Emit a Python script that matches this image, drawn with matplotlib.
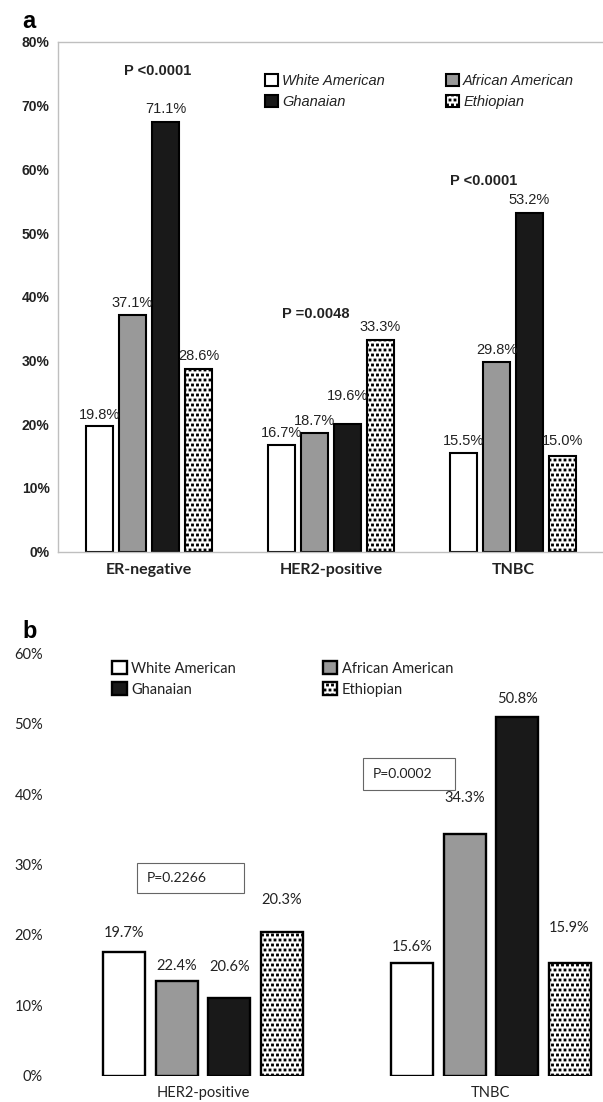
import numpy as np
import matplotlib
matplotlib.use("Agg")
import matplotlib.pyplot as plt
from matplotlib import hatch as mhatch
from matplotlib.path import Path
from matplotlib.patches import Rectangle
from matplotlib.legend import Legend


# '.' hatch -> small filled squares, staggered (the Excel "dotted" fill)
class SmallSquares(mhatch.Shapes):
    size = 0.2
    filled = True

    def __init__(self, hatch, density):
        self.num_rows = hatch.count('.') * 5
        self.shape_vertices = np.array([[-1, -1], [1, -1], [1, 1], [-1, 1], [-1, -1]], float)
        self.shape_codes = np.array([Path.MOVETO, Path.LINETO, Path.LINETO,
                                     Path.LINETO, Path.CLOSEPOLY], dtype=Path.code_type)
        super().__init__(hatch, density)


mhatch._hatch_types[:] = [h for h in mhatch._hatch_types
                          if h is not mhatch.SmallFilledCircles] + [SmallSquares]
plt.rcParams['hatch.linewidth'] = 0.6

W, H = 603, 1102
groups = ['White American', 'African American', 'Ghanaian', 'Ethiopian']

# ---- panel a data (bar heights as drawn, labels as printed)
a_categories = ['ER-negative', 'HER2-positive', 'TNBC']
a_white = [19.8, 16.7, 15.5]
a_african = [37.1, 18.7, 29.8]
a_ghana = [67.4, 20.0, 53.1]
a_ethiopia = [28.7, 33.3, 15.0]
a_white_lbl = ['19.8%', '16.7%', '15.5%']
a_african_lbl = ['37.1%', '18.7%', '29.8%']
a_ghana_lbl = ['71.1%', '19.6%', '53.2%']
a_ethiopia_lbl = ['28.6%', '33.3%', '15.0%']
a_pvalues = ['P <0.0001', 'P =0.0048', 'P <0.0001']

# ---- panel b data
b_categories = ['HER2-positive', 'TNBC']
b_white = [17.6, 16.0]
b_african = [13.5, 34.3]
b_ghana = [11.1, 50.9]
b_ethiopia = [20.4, 16.0]
b_white_lbl = ['19.7%', '15.6%']
b_african_lbl = ['22.4%', '34.3%']
b_ghana_lbl = ['20.6%', '50.8%']
b_ethiopia_lbl = ['20.3%', '15.9%']
b_pvalues = ['P=0.2266', 'P=0.0002']

# styles
faces = ['white', '#999999', '#191919', 'white']
hatches = [None, None, None, '....']
px = 72 / 100  # points per pixel


def fig_rect(x0, y0, x1, y1):
    return [x0 / W, 1 - y1 / H, (x1 - x0) / W, (y1 - y0) / H]


fig = plt.figure(figsize=(W / 100, H / 100), dpi=100)

# ================= panel a =================
axa = fig.add_axes(fig_rect(58, 42, 604, 551.7))
sans = 'Liberation Sans'
a_series = [a_white, a_african, a_ghana, a_ethiopia]
a_lbls = [a_white_lbl, a_african_lbl, a_ghana_lbl, a_ethiopia_lbl]
a_dy = [[11, 12, 12], [12, 12, 12], [13, 28, 13], [13, 13, 15]]  # label lift, px
x = np.arange(len(a_categories))
pitch, bw = 0.181, 0.145
a_handles = []
for i, vals in enumerate(a_series):
    pos = x + (i - 1.5) * pitch
    bars = axa.bar(pos, vals, bw, color=faces[i], edgecolor='black',
                   linewidth=1.5, hatch=hatches[i], label=groups[i])
    a_handles.append(bars)
    for j, b in enumerate(bars):
        axa.annotate(a_lbls[i][j], (b.get_x() + b.get_width() / 2, b.get_height()),
                     xytext=(0, a_dy[i][j] * px), textcoords='offset points',
                     ha='center', va='center', fontsize=10.5, family=sans, color='#222222')

axa.set_xlim(-0.5, 2.5)
axa.set_ylim(0, 80)
axa.set_yticks(range(0, 81, 10))
axa.set_yticklabels([f'{v}%' for v in range(0, 81, 10)], fontsize=10,
                    fontweight='bold', family=sans, color='#222222')
axa.set_xticks(x)
axa.set_xticklabels(a_categories, fontsize=11.5, fontweight='bold', family='Lato', color='#222222')
axa.tick_params(length=0)
axa.tick_params(axis='y', pad=6)
axa.tick_params(axis='x', pad=8)
for s in ['left', 'top', 'bottom']:
    axa.spines[s].set_color('#bfbfbf')
    axa.spines[s].set_linewidth(1.0)
axa.spines['right'].set_visible(False)

# p-values (offset from each group centre)
a_p_pos = [(0.05, 75.5), (-0.083, 37.3), (-0.162, 58.2)]
for k, (t, (dx, py_)) in enumerate(zip(a_pvalues, a_p_pos)):
    axa.text(k + dx, py_, t, ha='center', va='center', fontsize=10.5,
             fontweight='bold', family=sans, color='#222222')

# legend as two columns
for idx, xl in [([0, 2], 265), ([1, 3], 445.7)]:
    lg = Legend(axa, [a_handles[k] for k in idx], [groups[k] for k in idx],
                loc='center left', bbox_to_anchor=(xl / W, 1 - 91.5 / H),
                bbox_transform=fig.transFigure, frameon=False, borderpad=0,
                borderaxespad=0, handlelength=0.9, handleheight=0.9,
                handletextpad=0.3, labelspacing=0.5,
                prop={'family': sans, 'style': 'italic', 'size': 10.5})
    for t in lg.get_texts():
        t.set_color('#222222')
    axa.add_artist(lg)

fig.text(22 / W, 1 - 21 / H, 'a', fontsize=17, fontweight='bold', family=sans,
         va='center', ha='left')

# ================= panel b =================
axb = fig.add_axes(fig_rect(50, 653.3, 603, 1075.7))
cal = 'Lato'
b_series = [b_white, b_african, b_ghana, b_ethiopia]
b_lbls = [b_white_lbl, b_african_lbl, b_ghana_lbl, b_ethiopia_lbl]
b_dy = [[19, 16], [15, 36], [31, 18], [32, 35]]
xb = np.arange(len(b_categories))
pitch_b, bw_b = 0.1824, 0.146
b_handles = []
for i, vals in enumerate(b_series):
    pos = xb + (i - 1.5) * pitch_b
    bars = axb.bar(pos, vals, bw_b, color=faces[i], edgecolor='black',
                   linewidth=1.7, hatch=hatches[i], label=groups[i])
    b_handles.append(bars)
    for j, b in enumerate(bars):
        axb.annotate(b_lbls[i][j], (b.get_x() + b.get_width() / 2, b.get_height()),
                     xytext=(0, b_dy[i][j] * px), textcoords='offset points',
                     ha='center', va='center', fontsize=10.5, family=cal, color='#222222')

axb.set_xlim((50 - 203) / 287.8, (603 - 203) / 287.8)
axb.set_ylim(0, 60)
axb.set_yticks(range(0, 61, 10))
axb.set_yticklabels([f'{v}%' for v in range(0, 61, 10)], fontsize=10.5,
                    family=cal, color='#222222')
axb.set_xticks(xb)
axb.set_xticklabels(b_categories, fontsize=10.5, family=cal, color='#222222')
axb.tick_params(length=0)
axb.tick_params(axis='y', pad=5)
axb.tick_params(axis='x', pad=7.5)
for s in axb.spines.values():
    s.set_visible(False)

# p-value boxes
b_boxes = [(136.7, 863.3, 244.3, 893.3), (362.7, 758.3, 455, 790.3)]
for t, (x0, y0, x1, y1) in zip(b_pvalues, b_boxes):
    fig.add_artist(Rectangle((x0 / W, 1 - y1 / H), (x1 - x0) / W, (y1 - y0) / H,
                             transform=fig.transFigure, facecolor='white',
                             edgecolor='#666666', linewidth=0.8))
    fig.text((x0 + 10) / W, 1 - (y0 + y1) / 2 / H, t, fontsize=10, family=cal,
             va='center', ha='left', color='#222222')

for idx, xl in [([0, 2], 112.3), ([1, 3], 322.7)]:
    lg = Legend(axb, [b_handles[k] for k in idx], [groups[k] for k in idx],
                loc='center left', bbox_to_anchor=(xl / W, 1 - 679 / H),
                bbox_transform=fig.transFigure, frameon=False, borderpad=0,
                borderaxespad=0, handlelength=1.0, handleheight=1.0,
                handletextpad=0.3, labelspacing=0.45,
                prop={'family': cal, 'size': 10.5})
    for t in lg.get_texts():
        t.set_color('#222222')
    axb.add_artist(lg)

fig.text(22 / W, 1 - 632 / H, 'b', fontsize=17, fontweight='bold', family=sans,
         va='center', ha='left')

fig.savefig('out.png', dpi=100)
